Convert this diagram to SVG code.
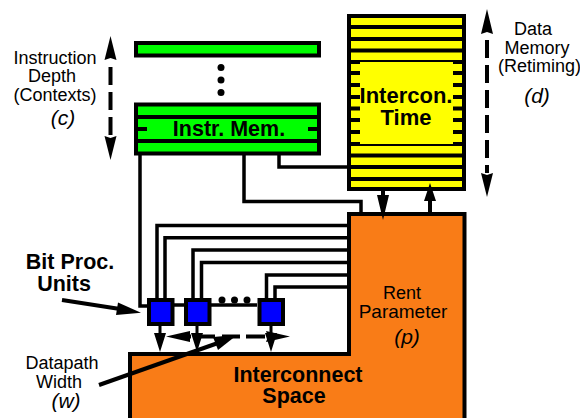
<svg xmlns="http://www.w3.org/2000/svg" width="580" height="418" viewBox="0 0 580 418">
<style>
.k{fill:none;stroke:#000;stroke-width:4}
.w{fill:none;stroke:#000;stroke-width:3.5}
.a{fill:none;stroke:#000;stroke-width:4}
.d{stroke-dasharray:18 7}
.b{fill:#00f;stroke:#000;stroke-width:4}
.t{font-family:"Liberation Sans",Arial,sans-serif;font-size:18px;text-anchor:middle;fill:#000}
.h{font-weight:bold;font-size:21.500px}
.i{font-style:italic;font-size:21px}
</style>
<rect width="580" height="418" fill="#fff"/>
<g id="connectors">
<path class="w" d="M140,155V306H148"/>
<path class="w" d="M244,155V201.500H361V213"/>
<path class="w" d="M279,155V167H349"/>
<path class="w" d="M157,298V225.500H349"/>
<path class="w" d="M165,298V237.700H349"/>
<path class="w" d="M193,298V250H349"/>
<path class="w" d="M201.500,298V262.500H349"/>
<path class="w" d="M266.500,298V275H349"/>
<path class="w" d="M275,298V287H349"/>
<path class="w" d="M174,305H184M211,305H257"/>
</g>
<g id="depth-arrow">
<path d="M110.500,36L116.500,60L110.500,58L104.500,60Z"/>
<path class="a d" d="M110.500,67V136"/>
<path d="M110.500,160L116.500,136L110.500,138L104.500,136Z"/>
</g>
<g id="memory-arrow">
<path d="M487,9L493,34L487,32L481,34Z"/>
<path class="a d" d="M487,40V173"/>
<path d="M487,197L493,173L487,175L481,173Z"/>
</g>
<g id="context-bar"><rect x="136" y="43" width="183" height="12.500" fill="#0f0" stroke="#000" stroke-width="4"/></g>
<g id="ellipsis-v"><circle cx="221" cy="67.500" r="3.500"/><circle cx="221" cy="80" r="3.500"/><circle cx="221" cy="92.500" r="3.500"/></g>
<g id="instr-mem">
<rect x="136" y="104.500" width="183" height="49" fill="#0f0" stroke="#000" stroke-width="4"/>
<path class="k" d="M136,117H319M136,141H319M136,129H147M308,129H319"/>
<text class="t h" x="229" y="136">Instr. Mem.</text>
</g>
<g id="intercon-time">
<rect x="349" y="16" width="115" height="173" fill="#ff0" stroke="#000" stroke-width="4"/>
<path class="k" d="M349,27H464M349,39H464M349,50.500H464M349,62H464M349,144H464M349,155.500H464M349,167H464M349,179H464"/>
<path class="k" d="M349,73H360M349,85H360M349,97H360M349,108.500H360M349,120H360M349,132H360M453,73H464M453,85H464M453,97H464M453,108.500H464M453,120H464M453,132H464"/>
<rect x="360" y="62" width="93" height="82" fill="#ff0"/>
<text class="t h" x="406" y="103" style="font-size:22px">Intercon.</text>
<text class="t h" x="406" y="124.500" style="font-size:22px">Time</text>
</g>
<g id="interconnect-space">
<path d="M349,214H464.500V420H130V354H349Z" fill="#f97c17" stroke="#000" stroke-width="4"/>
<text class="t" x="402" y="299">Rent</text>
<text class="t" x="403" y="318" style="font-size:19px">Parameter</text>
<text class="t i" x="407" y="344">(p)</text>
<text class="t h" x="298" y="382">Interconnect</text>
<text class="t h" x="294" y="403">Space</text>
</g>
<g id="down-arrows">
<path d="M381,191H385V195H389L383,220L377,195H381Z"/>
<path d="M428,212V201H424L430,183L436,201H432V212Z"/>
<path d="M158.500,326H161.500V333H166L160,352L154,333H158.500Z"/>
<path d="M195.500,326H198.500V333H203L197,352L191,333H195.500Z"/>
<path d="M269.500,326H272.500V333H277L271,352L265,333H269.500Z"/>
</g>
<g id="pu1"><rect class="b" x="149" y="300" width="23.500" height="24"/></g>
<g id="pu2"><rect class="b" x="186" y="300" width="23.500" height="24"/></g>
<g id="pu3"><rect class="b" x="259.500" y="300" width="23.500" height="24"/></g>
<g id="ellipsis-h"><circle cx="222" cy="300" r="3.500"/><circle cx="234.500" cy="300" r="3.500"/><circle cx="247" cy="300" r="3.500"/></g>
<g id="width-arrow">
<path d="M166,336.500L190,331L190,342Z"/>
<path class="a" d="M190,336.500H191M198,336.500H215M222,336.500H240M246,336.500H265"/>
<path d="M290,336.500L266,331L268,336.500L266,342Z"/>
</g>
<g id="callouts">
<path class="a" d="M62,300L120,309"/>
<path d="M141,312.700L118,302.500L116,315Z"/>
<path class="a" d="M99,385L218,343"/>
<path d="M237,335L213,337L218,350Z"/>
</g>
<g id="labels">
<text class="t" x="55" y="63.500">Instruction</text>
<text class="t" x="52" y="82">Depth</text>
<text class="t" x="55" y="100.500">(Contexts)</text>
<text class="t i" x="63" y="125">(c)</text>
<text class="t" x="533" y="35">Data</text>
<text class="t" x="537" y="54">Memory</text>
<text class="t" x="539.500" y="72">(Retiming)</text>
<text class="t i" x="537" y="103">(d)</text>
<text class="t h" x="70" y="269">Bit Proc.</text>
<text class="t h" x="64" y="291">Units</text>
<text class="t" x="62" y="369">Datapath</text>
<text class="t" x="59" y="388">Width</text>
<text class="t i" x="66" y="408">(w)</text>
</g>
</svg>
